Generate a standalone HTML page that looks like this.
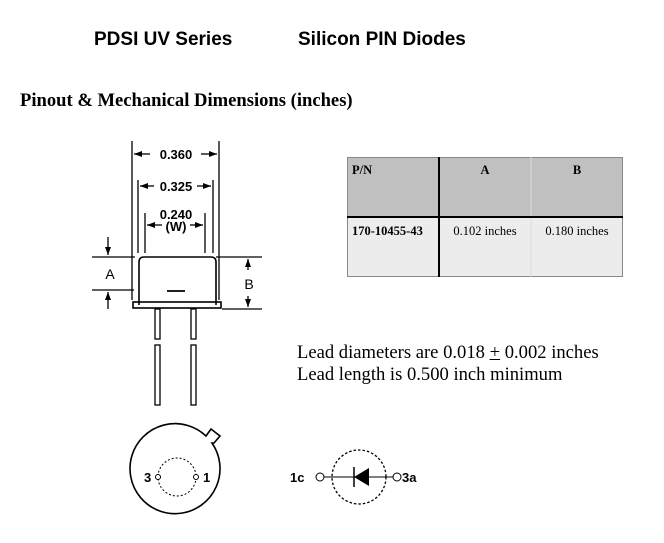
<!DOCTYPE html>
<html><head><style>
html,body{margin:0;padding:0;background:#fff;}
body{width:664px;height:543px;position:relative;overflow:hidden;}
.t{position:absolute;white-space:nowrap;}
</style></head><body>
<div class="t" style="left:94px;top:29px;font:bold 19px 'Liberation Sans',sans-serif;">PDSI UV Series</div>
<div class="t" style="left:298px;top:29px;font:bold 19px 'Liberation Sans',sans-serif;">Silicon PIN Diodes</div>
<div class="t" style="left:20px;top:90px;font:bold 18.6px 'Liberation Serif',serif;">Pinout &amp; Mechanical Dimensions (inches)</div>
<div class="t" style="left:297px;top:342px;font:18.6px 'Liberation Serif',serif;line-height:22px;">Lead diameters are 0.018 <span style="text-decoration:underline">+</span> 0.002 inches<br>Lead length is 0.500 inch minimum</div>

<svg width="664" height="543" style="position:absolute;left:0;top:0" xmlns="http://www.w3.org/2000/svg">
<defs><marker id="ar" markerWidth="8" markerHeight="6" refX="8" refY="3" orient="auto" markerUnits="userSpaceOnUse"><path d="M0,0 L8,3 L0,6z" fill="#000"/></marker></defs>
<rect x="347" y="157" width="276" height="60" fill="#c0c0c0"/>
<rect x="347" y="217" width="276" height="60" fill="#ececec"/>
<rect x="347.5" y="157.5" width="275" height="119" fill="none" stroke="#888"/>
<line x1="531" y1="157" x2="531" y2="277" stroke="#ddd"/>
<line x1="347" y1="217" x2="623" y2="217" stroke="#000" stroke-width="2"/>
<line x1="439" y1="157" x2="439" y2="277" stroke="#000" stroke-width="2"/>
<g font-family="Liberation Serif,serif" font-size="12.5">
<text x="352" y="174" font-weight="bold">P/N</text>
<text x="485" y="174" font-weight="bold" text-anchor="middle">A</text>
<text x="577" y="174" font-weight="bold" text-anchor="middle">B</text>
<text x="352" y="235" font-weight="bold">170-10455-43</text>
<text x="485" y="235" text-anchor="middle">0.102 inches</text>
<text x="577" y="235" text-anchor="middle">0.180 inches</text>
</g>
<g stroke="#000" stroke-width="1.3" fill="none">
<line x1="132" y1="141" x2="132" y2="300"/>
<line x1="219" y1="141" x2="219" y2="300"/>
<line x1="150" y1="154" x2="134" y2="154" marker-end="url(#ar)"/>
<line x1="201" y1="154" x2="217" y2="154" marker-end="url(#ar)"/>
<line x1="138" y1="180" x2="138" y2="253"/>
<line x1="213" y1="180" x2="213" y2="253"/>
<line x1="154" y1="186" x2="140" y2="186" marker-end="url(#ar)"/>
<line x1="197" y1="186" x2="211" y2="186" marker-end="url(#ar)"/>
<line x1="145" y1="213" x2="145" y2="253"/>
<line x1="205" y1="213" x2="205" y2="253"/>
<line x1="162" y1="225" x2="147" y2="225" marker-end="url(#ar)"/>
<line x1="190" y1="225" x2="203" y2="225" marker-end="url(#ar)"/>
<path d="M139,305 L139,262 Q139,257 144,257 L211,257 Q216,257 216,262 L216,305" stroke-width="1.6"/>
<rect x="133" y="302" width="88" height="6" stroke-width="1.6"/>
<line x1="167" y1="291" x2="185" y2="291" stroke-width="1.8"/>
<rect x="155" y="309" width="5" height="30"/>
<rect x="191" y="309" width="5" height="30"/>
<rect x="155" y="345" width="5" height="60"/>
<rect x="191" y="345" width="5" height="60"/>
<line x1="92" y1="257" x2="135" y2="257"/>
<line x1="92" y1="290" x2="134" y2="290"/>
<line x1="108" y1="237" x2="108" y2="255" marker-end="url(#ar)"/>
<line x1="108" y1="309" x2="108" y2="292" marker-end="url(#ar)"/>
<line x1="216" y1="257" x2="262" y2="257"/>
<line x1="222" y1="309" x2="262" y2="309"/>
<line x1="248" y1="270" x2="248" y2="259" marker-end="url(#ar)"/>
<line x1="248" y1="296" x2="248" y2="307" marker-end="url(#ar)"/>
</g>
<g font-family="Liberation Sans,sans-serif" font-size="13" font-weight="bold" text-anchor="middle">
<text x="176" y="159">0.360</text>
<text x="176" y="191">0.325</text>
<text x="176" y="219">0.240</text>
<text x="176" y="231">(W)</text>
</g>
<g font-family="Liberation Sans,sans-serif" font-size="14" text-anchor="middle">
<text x="110" y="279">A</text>
<text x="249" y="289">B</text>
</g>
<g stroke="#000" fill="none">
<path d="M212,443 A45,45 0 1 1 206,436 L211,429 L220,436 L214,443 Z" stroke-width="1.6" fill="#fff"/>
<circle cx="177" cy="477" r="19" stroke-dasharray="2,2"/>
<circle cx="158" cy="477" r="2.5" fill="#fff"/>
<circle cx="196" cy="477" r="2.5" fill="#fff"/>
<circle cx="359" cy="477" r="27" stroke-dasharray="2.5,2" stroke-width="1.3"/>
<line x1="324" y1="477" x2="393" y2="477"/>
<circle cx="320" cy="477" r="4" fill="#fff"/>
<circle cx="397" cy="477" r="4" fill="#fff"/>
<line x1="354" y1="467" x2="354" y2="487" stroke-width="1.5"/>
</g>
<path d="M354,477 L369,468 L369,486 Z" fill="#000"/>
<g font-family="Liberation Sans,sans-serif" font-size="13" font-weight="bold">
<text x="144" y="482">3</text>
<text x="203" y="482">1</text>
<text x="290" y="482">1c</text>
<text x="402" y="482">3a</text>
</g>
</svg>
</body></html>
